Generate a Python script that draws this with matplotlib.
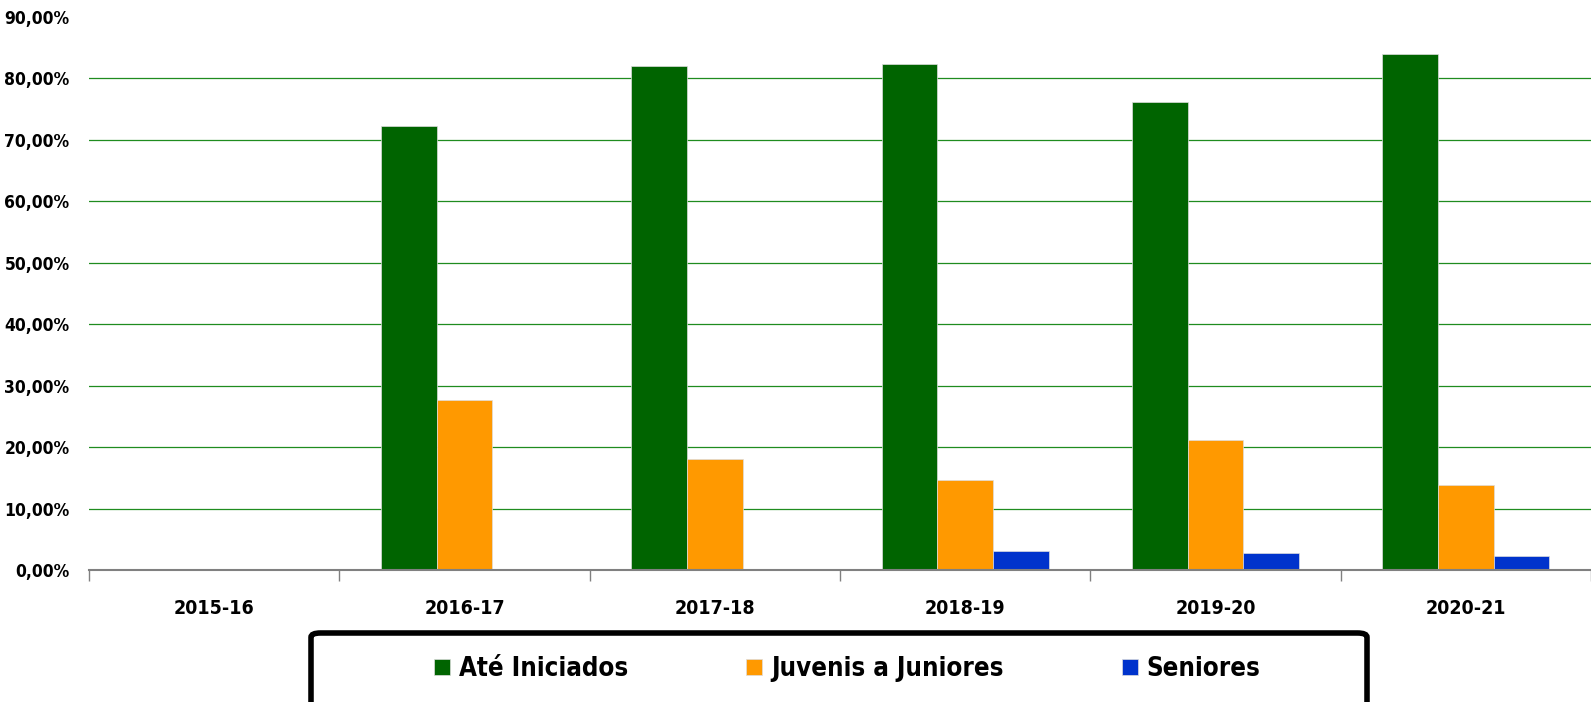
import numpy as np
import matplotlib
matplotlib.use("Agg")
import matplotlib.pyplot as plt
from matplotlib import font_manager as fm
from matplotlib.patches import FancyBboxPatch
from matplotlib.ticker import FuncFormatter

# dados (percentagens)
epocas = ["2015-16", "2016-17", "2017-18", "2018-19", "2019-20", "2020-21"]
ate_iniciados = [0.0, 72.3, 82.0, 82.3, 76.1, 84.0]
juvenis_juniores = [0.0, 27.7, 18.0, 14.6, 21.1, 13.8]
seniores = [0.0, 0.0, 0.0, 3.1, 2.8, 2.2]

series = ["Até Iniciados", "Juvenis a Juniores", "Seniores"]
cores = ["#006400", "#FF9900", "#0033CC"]

# procurar uma fonte condensada; senão Liberation Sans mais pequena
cond = [f for f in fm.fontManager.ttflist
        if ('Condensed' in f.name or 'Narrow' in f.name or str(f.stretch) in ('condensed', 'semi-condensed', 'extra-condensed'))]
cond_bold = [f for f in cond if f.weight in ('bold', 700, 'heavy', 800, 'black', 900)]
if cond_bold or cond:
    f = (cond_bold or cond)[0]
    plt.rcParams['font.family'] = [f.name, 'DejaVu Sans']
    plt.rcParams['font.stretch'] = f.stretch
    tam_y, tam_x, tam_leg = 12.5, 14, 18.5
else:
    plt.rcParams['font.family'] = ['Liberation Sans', 'DejaVu Sans']
    tam_y, tam_x, tam_leg = 11, 12, 16
plt.rcParams['font.weight'] = 'bold'

fig = plt.figure(figsize=(15.91, 7.02), dpi=100)
ax = fig.add_axes([89 / 1591, 1 - 570 / 702, 1 - 89 / 1591, (570 - 17) / 702])

x = np.arange(len(epocas)) + 0.5
w = 0.222
for i, (vals, nome, cor) in enumerate(zip([ate_iniciados, juvenis_juniores, seniores], series, cores)):
    ax.bar(x + (i - 1) * w, vals, w, color=cor, label=nome,
           edgecolor='#dddddd', linewidth=0.5, zorder=2)

ax.set_xlim(0, len(epocas))
ax.set_ylim(0, 90)
ax.set_yticks(np.arange(0, 91, 10))
ax.yaxis.set_major_formatter(FuncFormatter(lambda v, p: f"{v:.2f}".replace(".", ",") + "%"))
ax.set_xticks(x)
ax.set_xticklabels(epocas)
ax.set_xticks(np.arange(0, len(epocas) + 1), minor=True)

ax.tick_params(axis='y', length=0, pad=14, labelsize=tam_y)
ax.tick_params(axis='x', which='major', length=0, pad=21, labelsize=tam_x)
ax.tick_params(axis='x', which='minor', length=8, width=1, color='#808080')

for s in ['top', 'right', 'left']:
    ax.spines[s].set_visible(False)
ax.spines['bottom'].set_color('#808080')
ax.spines['bottom'].set_linewidth(1.5)

ax.set_axisbelow(True)
ax.yaxis.grid(True, color='#1f8c1f', linewidth=0.9)
ax.get_ygridlines()[-1].set_visible(False)

# caixa da legenda (cortada em baixo)
caixa = FancyBboxPatch((311 / 1591, -0.05), (1367 - 311) / 1591, (702 - 633) / 702 + 0.05,
                       boxstyle="round,pad=0,rounding_size=0.006",
                       transform=fig.transFigure, facecolor='white',
                       edgecolor='black', linewidth=4, zorder=1)
fig.patches.append(caixa)

leg = fig.legend(loc='center', bbox_to_anchor=(847 / 1591, 1 - 669 / 702), ncol=3,
                 frameon=False, fontsize=tam_leg, handlelength=0.62, handleheight=0.62,
                 handletextpad=0.35, columnspacing=4.6)
leg.set_zorder(3)

fig.savefig("out.png", dpi=100)
